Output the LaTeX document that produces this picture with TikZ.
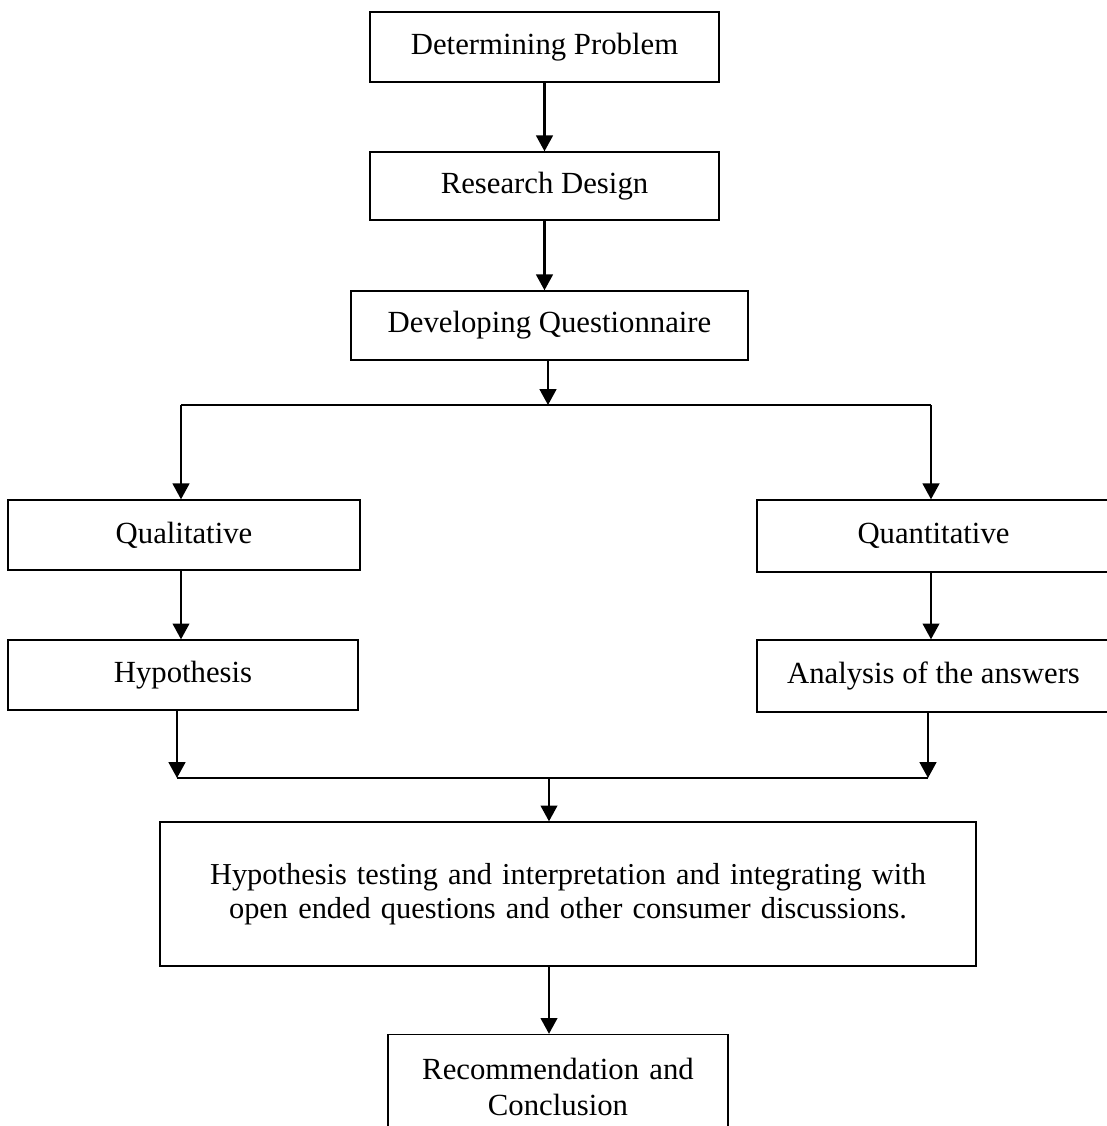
\documentclass[tikz,border=0pt]{standalone}
\usepackage{fontspec}
\setmainfont{Liberation Serif}
\usetikzlibrary{arrows.meta}

\begin{document}
\begin{tikzpicture}[x=0.02cm,y=-0.02cm,>={Triangle[width=9.5pt,length=9pt]},
  box/.style={draw,line width=0.8pt,inner sep=0pt,align=center,
    font=\fontsize{17.5}{21}\selectfont},
  link/.style={->,line width=1.2pt}]
  \useasboundingbox (0,0) rectangle (1106,1126);
  % boxes
  \node[box,minimum width=6.98cm,minimum height=1.40cm] (problem) at (544.5,47) {Determining Problem};
  \node[box,minimum width=6.98cm,minimum height=1.36cm] (design) at (544.5,186) {Research Design};
  \node[box,minimum width=7.94cm,minimum height=1.38cm] (quest) at (549.5,325.5) {Developing Questionnaire};
  \node[box,minimum width=7.04cm,minimum height=1.40cm] (qual) at (184,535) {Qualitative};
  \node[box,minimum width=7.06cm,minimum height=1.44cm] (quant) at (933.5,536) {Quantitative};
  \node[box,minimum width=7.00cm,minimum height=1.40cm] (hyp) at (183,675) {Hypothesis};
  \node[box,minimum width=7.06cm,minimum height=1.44cm] (answers) at (933.5,676) {Analysis of the answers};
  \node[box,minimum width=16.32cm,minimum height=2.88cm,text width=15.6cm,
    font=\fontsize{17.3}{19.5}\selectfont] (testing) at (568,894)
    {Hypothesis testing and interpretation and integrating with\\ open ended questions and other consumer discussions.};
  \node[box,minimum width=6.80cm,minimum height=2.10cm,text width=6.4cm,
    font=\fontsize{17.5}{21}\selectfont] (recom) at (558,1087)
    {Recommendation and\\ Conclusion};
  % split and join points
  \coordinate (split) at (548,405);
  \coordinate (splitL) at (181,405);
  \coordinate (splitR) at (931,405);
  \coordinate (joinL) at (177,778);
  \coordinate (joinR) at (928,778);
  \coordinate (join) at (549,778);
  % connectors
  \draw[link] (problem.south) -- (design.north);
  \draw[link] (design.south) -- (design.south |- quest.north);
  \draw[link] (quest.south -| split) -- (split);
  \draw[line width=1.1pt] (splitL) -- (splitR);
  \draw[link] (splitL) -- (splitL |- qual.north);
  \draw[link] (splitR) -- (splitR |- quant.north);
  \draw[link] (qual.south -| 181,0) -- (hyp.north -| 181,0);
  \draw[link] (quant.south -| 931,0) -- (answers.north -| 931,0);
  \draw[link] (hyp.south -| joinL) -- (joinL);
  \draw[link] (answers.south -| joinR) -- (joinR);
  \draw[line width=1.1pt] (joinL) -- (joinR);
  \draw[link] (join) -- (join |- testing.north);
  \draw[link] (testing.south -| join) -- (join |- recom.north);
\end{tikzpicture}
\end{document}
